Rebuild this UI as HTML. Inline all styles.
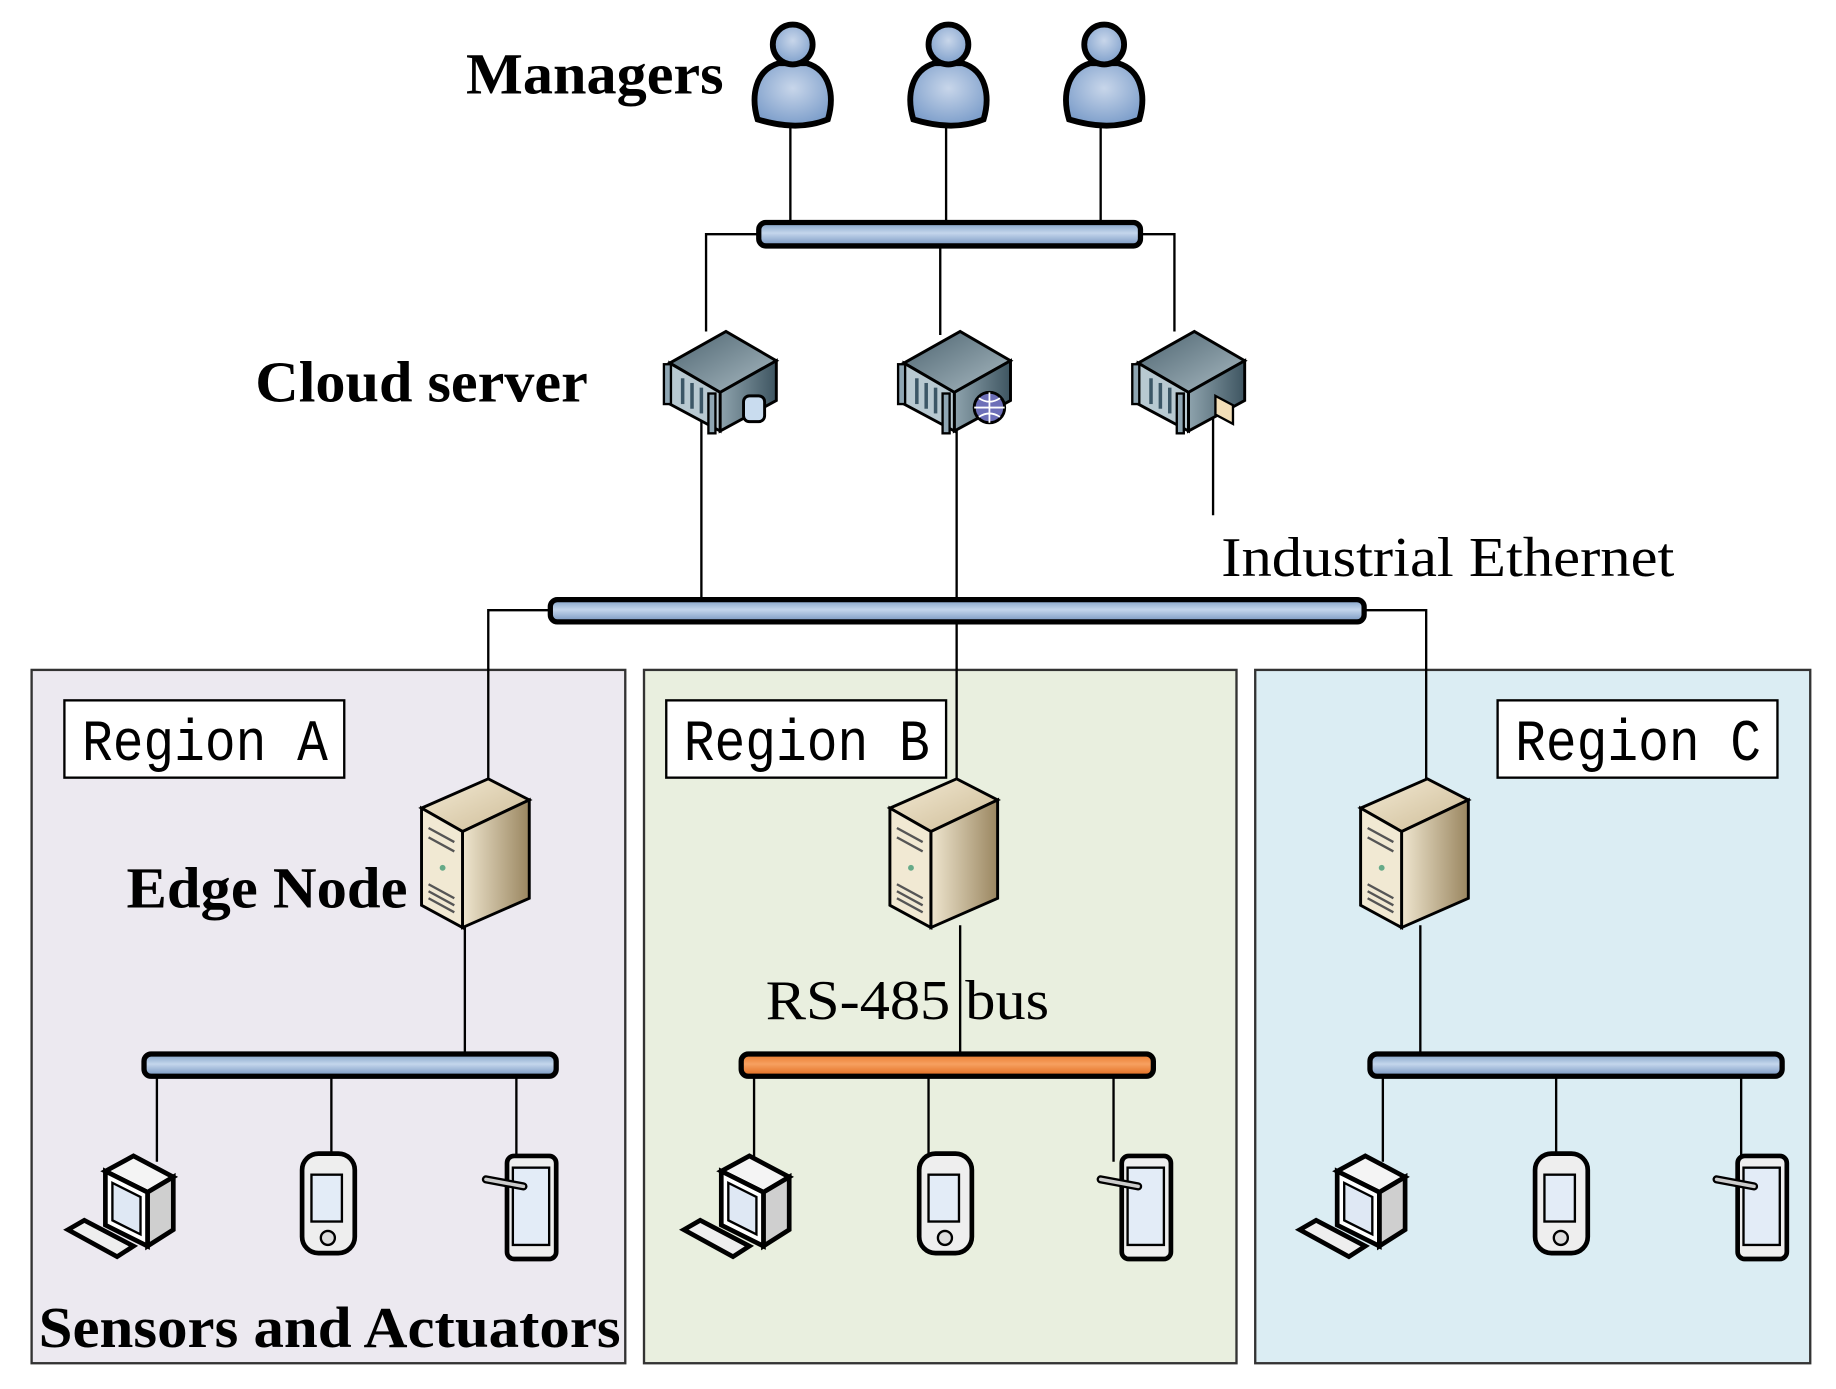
<!DOCTYPE html>
<html><head><meta charset="utf-8"><style>
html,body{margin:0;padding:0;background:#fff;}
svg{display:block;}
</style></head><body>
<svg width="1836" height="1389" viewBox="0 0 1568 1186" preserveAspectRatio="none" xmlns="http://www.w3.org/2000/svg">
<defs>
<linearGradient id="pipe" x1="0" y1="0" x2="0" y2="1"><stop offset="0" stop-color="#7f9fc6"/><stop offset="0.45" stop-color="#c4d6ec"/><stop offset="1" stop-color="#7393be"/></linearGradient>
<linearGradient id="opipe" x1="0" y1="0" x2="0" y2="1"><stop offset="0" stop-color="#e8782a"/><stop offset="0.45" stop-color="#f7a060"/><stop offset="1" stop-color="#e06a1c"/></linearGradient>
<radialGradient id="person" cx="0.5" cy="0.4" r="0.6"><stop offset="0" stop-color="#c8d6ea"/><stop offset="1" stop-color="#7e9fcb"/></radialGradient>
<linearGradient id="rtop" x1="0" y1="0" x2="1" y2="1"><stop offset="0" stop-color="#4d6470"/><stop offset="1" stop-color="#a9bac2"/></linearGradient>
<linearGradient id="rright" x1="0" y1="0" x2="1" y2="0"><stop offset="0" stop-color="#8ea3ad"/><stop offset="1" stop-color="#3e5561"/></linearGradient>
<linearGradient id="ttop" x1="0" y1="0" x2="1" y2="1"><stop offset="0" stop-color="#f3ead4"/><stop offset="1" stop-color="#cdbb96"/></linearGradient>
<linearGradient id="tright" x1="0" y1="0" x2="1" y2="0"><stop offset="0" stop-color="#efe6cf"/><stop offset="1" stop-color="#9a8660"/></linearGradient>
<g id="personI">
<path d="M-30,84 C-36,64 -32,42 -12,36 L12,36 C32,42 36,64 30,84 C10,92 -10,90 -30,84 Z" fill="url(#person)" stroke="#000" stroke-width="5"/>
<circle cx="0" cy="20" r="17" fill="url(#person)" stroke="#000" stroke-width="5"/>
</g>
<g id="rack">
<polygon points="7,27 55,0 98,25 50,52" fill="url(#rtop)" stroke="#000" stroke-width="2.5"/>
<polygon points="50,52 98,25 98,59 50,85" fill="url(#rright)" stroke="#000" stroke-width="2.5"/>
<polygon points="7,27 50,52 50,85 7,62" fill="#b8c9d1" stroke="#000" stroke-width="2.5"/>
<line x1="18" y1="40" x2="18" y2="62" stroke="#3b5666" stroke-width="3"/>
<line x1="26" y1="44" x2="26" y2="66" stroke="#3b5666" stroke-width="3"/>
<line x1="34" y1="48" x2="34" y2="70" stroke="#3b5666" stroke-width="3"/>
<rect x="2" y="28" width="6" height="34" fill="#8fa6b3" stroke="#000" stroke-width="2"/>
<rect x="40" y="53" width="6" height="34" fill="#8fa6b3" stroke="#000" stroke-width="2"/>
</g>
<g id="tower">
<polygon points="0,25 57,0 92,18 35,45" fill="url(#ttop)" stroke="#000" stroke-width="2.5"/>
<polygon points="35,45 92,18 92,102 35,127" fill="url(#tright)" stroke="#000" stroke-width="2.5"/>
<polygon points="0,25 35,45 35,127 0,108" fill="#f1e9d3" stroke="#000" stroke-width="2.5"/>
<path d="M6,42 L28,54 M6,50 L28,62 M6,90 L28,102 M6,96 L28,108 M6,102 L28,114" stroke="#555" stroke-width="2"/>
<circle cx="18" cy="76" r="2.5" fill="#6a8"/>
</g>
<g id="pc">
<polygon points="-76,58 -62,50 -20,72 -34,81" fill="#eee" stroke="#000" stroke-width="4"/>
<polygon points="-44,8 -20,-5 14,13 -8,26" fill="#f4f4f4" stroke="#000" stroke-width="4"/>
<polygon points="-8,26 14,13 14,58 -8,72" fill="#cfcfcf" stroke="#000" stroke-width="4"/>
<polygon points="-44,8 -8,26 -8,72 -44,54" fill="#fff" stroke="#000" stroke-width="4"/>
<polygon points="-38,18 -14,30 -14,62 -38,50" fill="#dfe8f4" stroke="#000" stroke-width="2"/>
</g>
<g id="phone">
<rect x="-25" y="0" width="45" height="85" rx="14" fill="#eee" stroke="#000" stroke-width="4"/>
<rect x="-17" y="18" width="26" height="40" fill="#e3ecf7" stroke="#000" stroke-width="2"/>
<circle cx="-3" cy="72" r="6" fill="#ddd" stroke="#000" stroke-width="2"/>
</g>
<g id="tablet">
<rect x="-8" y="2" width="42" height="88" rx="6" fill="#eee" stroke="#000" stroke-width="4"/>
<rect x="-3" y="12" width="31" height="66" fill="#e3ecf7" stroke="#000" stroke-width="2"/>
<line x1="-26" y1="22" x2="6" y2="28" stroke="#000" stroke-width="7" stroke-linecap="round"/>
<line x1="-26" y1="22" x2="6" y2="28" stroke="#ccc" stroke-width="3" stroke-linecap="round"/>
</g>
</defs>

<rect x="27" y="572" width="507" height="592" fill="#ece9f0" stroke="#333" stroke-width="2"/>
<rect x="550" y="572" width="506" height="592" fill="#e9efdf" stroke="#333" stroke-width="2"/>
<rect x="1072" y="572" width="474" height="592" fill="#dbedf3" stroke="#333" stroke-width="2"/>

<g stroke="#000" stroke-width="2" fill="none">
<line x1="675" y1="104" x2="675" y2="192"/><line x1="808" y1="104" x2="808" y2="192"/><line x1="940" y1="104" x2="940" y2="192"/>
<polyline points="650,200 603,200 603,283"/><line x1="803" y1="208" x2="803" y2="286"/><polyline points="972,200 1003,200 1003,283"/>
<line x1="599" y1="350" x2="599" y2="514"/><line x1="817" y1="350" x2="817" y2="668"/><line x1="1036" y1="345" x2="1036" y2="440"/>
<polyline points="472,521 417,521 417,666"/><polyline points="1163,521 1218,521 1218,666"/>
<line x1="397" y1="790" x2="397" y2="902"/><line x1="820" y1="790" x2="820" y2="902"/><line x1="1213" y1="790" x2="1213" y2="902"/>
<line x1="134" y1="917" x2="134" y2="992"/><line x1="283" y1="917" x2="283" y2="992"/><line x1="441" y1="917" x2="441" y2="992"/>
<line x1="644" y1="917" x2="644" y2="992"/><line x1="793" y1="917" x2="793" y2="992"/><line x1="951" y1="917" x2="951" y2="992"/>
<line x1="1181" y1="917" x2="1181" y2="992"/><line x1="1329" y1="917" x2="1329" y2="992"/><line x1="1487" y1="917" x2="1487" y2="992"/>
</g>

<rect x="648" y="190" width="326" height="20" rx="6" fill="url(#pipe)" stroke="#000" stroke-width="4.5"/>
<rect x="470" y="512" width="695" height="19" rx="6" fill="url(#pipe)" stroke="#000" stroke-width="4.5"/>
<rect x="123" y="900" width="352" height="19" rx="6" fill="url(#pipe)" stroke="#000" stroke-width="4.5"/>
<rect x="633" y="900" width="352" height="19" rx="6" fill="url(#opipe)" stroke="#000" stroke-width="4.5"/>
<rect x="1170" y="900" width="352" height="19" rx="6" fill="url(#pipe)" stroke="#000" stroke-width="4.5"/>

<use href="#personI" x="677" y="18"/><use href="#personI" x="810" y="18"/><use href="#personI" x="943" y="18"/>

<use href="#rack" x="565" y="283"/><use href="#rack" x="765" y="283"/><use href="#rack" x="965" y="283"/>
<rect x="635" y="338" width="18" height="22" rx="5" fill="#c9dcef" stroke="#000" stroke-width="2.5"/>
<circle cx="845" cy="348" r="13" fill="#6d6fb8" stroke="#000" stroke-width="2.5"/>
<path d="M832,348 H858 M845,335 V361 M836,340 Q845,346 854,340 M836,356 Q845,350 854,356" stroke="#fff" stroke-width="1.5" fill="none"/>
<polygon points="1038,338 1053,346 1053,362 1038,354" fill="#f3dfb8" stroke="#000" stroke-width="2"/>

<use href="#tower" x="360" y="665"/><use href="#tower" x="760" y="665"/><use href="#tower" x="1162" y="665"/>

<use href="#pc" x="134" y="992"/><use href="#phone" x="283" y="985"/><use href="#tablet" x="441" y="985"/>
<use href="#pc" x="660" y="992"/><use href="#phone" x="810" y="985"/><use href="#tablet" x="966" y="985"/>
<use href="#pc" x="1186" y="992"/><use href="#phone" x="1336" y="985"/><use href="#tablet" x="1492" y="985"/>

<g fill="#fff" stroke="#000" stroke-width="2">
<rect x="55" y="598" width="239" height="66"/><rect x="569" y="598" width="239" height="66"/><rect x="1279" y="598" width="239" height="66"/>
</g>
<g font-family="'Liberation Mono', monospace" font-size="50" fill="#000">
<text x="70" y="649" textLength="210" lengthAdjust="spacingAndGlyphs">Region A</text>
<text x="584" y="649" textLength="210" lengthAdjust="spacingAndGlyphs">Region B</text>
<text x="1294" y="649" textLength="210" lengthAdjust="spacingAndGlyphs">Region C</text>
</g>

<g font-family="'Liberation Serif', serif" fill="#000">
<text x="398" y="80" font-size="50" font-weight="bold" textLength="220" lengthAdjust="spacingAndGlyphs">Managers</text>
<text x="218" y="343" font-size="50" font-weight="bold" textLength="284" lengthAdjust="spacingAndGlyphs">Cloud server</text>
<text x="1043" y="492" font-size="48" textLength="387" lengthAdjust="spacingAndGlyphs">Industrial Ethernet</text>
<text x="108" y="775" font-size="50" font-weight="bold" textLength="240" lengthAdjust="spacingAndGlyphs">Edge Node</text>
<text x="654" y="870" font-size="48" textLength="242" lengthAdjust="spacingAndGlyphs">RS-485 bus</text>
<text x="33" y="1150" font-size="50" font-weight="bold" textLength="497" lengthAdjust="spacingAndGlyphs">Sensors and Actuators</text>
</g>
</svg>
</body></html>
